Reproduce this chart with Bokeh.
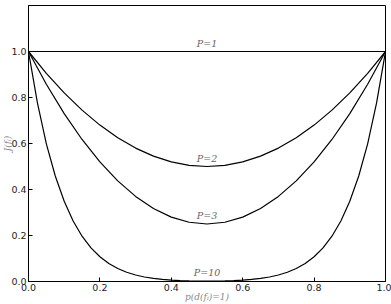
from bokeh.plotting import figure
from bokeh.embed import file_html
from bokeh.resources import INLINE
from bokeh.models import Range1d, FixedTicker, ColumnDataSource, PrintfTickFormatter
from bokeh.core.properties import value

# ---- data ----
x_p1 = [0.0, 1.0]
y_p1 = [1.0, 1.0]

x_p2 = [0.0, 0.05, 0.1, 0.15, 0.2, 0.25, 0.3, 0.35, 0.4, 0.45, 0.5,
        0.55, 0.6, 0.65, 0.7, 0.75, 0.8, 0.85, 0.9, 0.95, 1.0]
y_p2 = [1.0, 0.905, 0.82, 0.745, 0.68, 0.625, 0.58, 0.545, 0.52, 0.505, 0.5,
        0.505, 0.52, 0.545, 0.58, 0.625, 0.68, 0.745, 0.82, 0.905, 1.0]

x_p3 = x_p2
y_p3 = [1.0, 0.8575, 0.73, 0.6175, 0.52, 0.4375, 0.37, 0.3175, 0.28, 0.2575, 0.25,
        0.2575, 0.28, 0.3175, 0.37, 0.4375, 0.52, 0.6175, 0.73, 0.8575, 1.0]

x_p10 = [0.0, 0.025, 0.05, 0.075, 0.1, 0.125, 0.15, 0.175, 0.2, 0.225, 0.25,
         0.275, 0.3, 0.325, 0.35, 0.375, 0.4, 0.425, 0.45, 0.475, 0.5,
         0.525, 0.55, 0.575, 0.6, 0.625, 0.65, 0.675, 0.7, 0.725, 0.75,
         0.775, 0.8, 0.825, 0.85, 0.875, 0.9, 0.925, 0.95, 0.975, 1.0]
y_p10 = [1.0, 0.7763, 0.5987, 0.4586, 0.3487, 0.2631, 0.1969, 0.1461, 0.1074, 0.0782, 0.0563,
         0.0401, 0.0282, 0.01963, 0.01346, 0.00915, 0.00615, 0.00414, 0.00287, 0.00217, 0.00195,
         0.00217, 0.00287, 0.00414, 0.00615, 0.00915, 0.01346, 0.01963, 0.0282, 0.0401, 0.0563,
         0.0782, 0.1074, 0.1461, 0.1969, 0.2631, 0.3487, 0.4586, 0.5987, 0.7763, 1.0]

label_text = ["P=1", "P=2", "P=3", "P=10"]
label_x = [0.5, 0.5, 0.5, 0.5]
label_y = [1.0, 0.5, 0.25, 0.00195]

x_ticks = [0.0, 0.2, 0.4, 0.6, 0.8, 1.0]
y_ticks = [0.0, 0.2, 0.4, 0.6, 0.8, 1.0]

SERIF = "DejaVu Serif"

# ---- figure ----
p = figure(width=391, height=304, output_backend="svg", toolbar_location=None,
           x_range=Range1d(0, 1), y_range=Range1d(0, 1.2),
           min_border_top=5, min_border_right=6, min_border_left=0, min_border_bottom=0)
p.background_fill_color = "white"
p.border_fill_color = "white"
p.outline_line_color = "black"
p.outline_line_width = 1
p.grid.visible = False

for ax in (p.xaxis[0], p.yaxis[0]):
    ax.axis_line_color = "black"
    ax.major_tick_in = 4
    ax.major_tick_out = 0
    ax.minor_tick_line_color = None
    ax.major_label_text_font = "DejaVu Sans"
    ax.major_label_text_font_size = "9.5px"
    ax.major_label_text_color = "#222222"
    ax.major_label_standoff = 2
    ax.formatter = PrintfTickFormatter(format="%.1f")
    ax.axis_label_text_font = SERIF
    ax.axis_label_text_font_style = "italic"
    ax.axis_label_text_font_size = "9px"
    ax.axis_label_text_color = "#888888"

p.xaxis[0].axis_label_standoff = -2
p.yaxis[0].axis_label_standoff = -5

p.xaxis[0].ticker = FixedTicker(ticks=x_ticks)
p.yaxis[0].ticker = FixedTicker(ticks=y_ticks)
p.xaxis[0].axis_label = "p(d(fᵢ)=1)"
p.yaxis[0].axis_label = "J(fᵢ)"

for xs, ys in ((x_p1, y_p1), (x_p2, y_p2), (x_p3, y_p3), (x_p10, y_p10)):
    p.line(xs, ys, line_color="black", line_width=1.2)

src = ColumnDataSource(dict(x=label_x, y=label_y, t=label_text))
p.text(x="x", y="y", text="t", source=src, text_align="center", text_baseline="bottom",
       y_offset=-3, text_font=value(SERIF), text_font_style="italic",
       text_font_size="9.5px", text_color="#666666")

open("out.html", "w").write(file_html(p, INLINE))
